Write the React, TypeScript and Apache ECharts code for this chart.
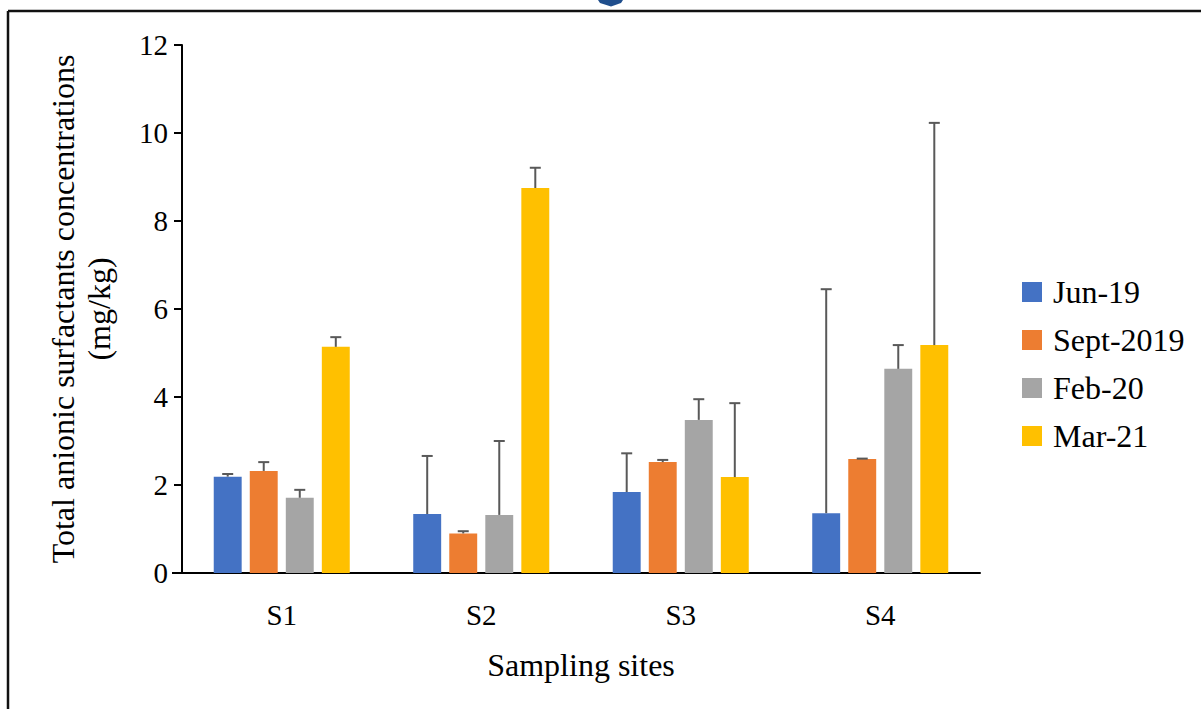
import React, { useEffect, useRef } from "react";
import * as echarts from "echarts";

const categories = ["S1", "S2", "S3", "S4"];
const seriesNames = ["Jun-19", "Sept-2019", "Feb-20", "Mar-21"];
const colors = ["#4472C4", "#ED7D31", "#A5A5A5", "#FFC000"];

const jun19 = [2.19, 1.34, 1.84, 1.36];
const sept2019 = [2.32, 0.9, 2.52, 2.59];
const feb20 = [1.71, 1.32, 3.48, 4.64];
const mar21 = [5.14, 8.75, 2.18, 5.18];

const jun19Err = [0.06, 1.32, 0.88, 5.09];
const sept2019Err = [0.2, 0.05, 0.05, 0.01];
const feb20Err = [0.18, 1.68, 0.47, 0.54];
const mar21Err = [0.22, 0.46, 1.68, 5.05];

const yTicks = [0, 2, 4, 6, 8, 10, 12];

const FONT = '"Liberation Serif", "Times New Roman", serif';

export default function App() {
  const ref = useRef<HTMLDivElement>(null);

  useEffect(() => {
    if (!ref.current) return;
    const chart = echarts.init(ref.current, null, { renderer: "svg" });
    const values = [jun19, sept2019, feb20, mar21];
    const errs = [jun19Err, sept2019Err, feb20Err, mar21Err];
    const barWidthFrac = 0.14;
    const barGapFrac = 0.29;

    const barSeries = values.map((v, i) => ({
      name: seriesNames[i],
      type: "bar",
      data: v,
      barWidth: "14%",
      barGap: "29%",
      itemStyle: { color: colors[i] },
      z: 2,
    }));

    const errSeries = values.map((v, i) => ({
      name: seriesNames[i] + "-err",
      type: "custom",
      z: 3,
      data: v.map((val, k) => [k, val, val + errs[i][k]]),
      renderItem: (params: any, api: any) => {
        const cat = api.value(0);
        const lo = api.coord([cat, api.value(1)]);
        const hi = api.coord([cat, api.value(2)]);
        const band = api.size([1, 0])[0];
        const w = band * barWidthFrac;
        const step = w * (1 + barGapFrac);
        const x = lo[0] + (i - 1.5) * step;
        const cap = 5.5;
        const style = { stroke: "#595959", lineWidth: 2 };
        return {
          type: "group",
          children: [
            { type: "line", shape: { x1: x, y1: lo[1], x2: x, y2: hi[1] }, style },
            { type: "line", shape: { x1: x - cap, y1: hi[1], x2: x + cap, y2: hi[1] }, style },
          ],
        };
      },
    }));

    chart.setOption({
      animation: false,
      backgroundColor: "#ffffff",
      textStyle: { fontFamily: FONT },
      grid: { left: 182, right: 221, top: 45, bottom: 136 },
      legend: {
        orient: "vertical",
        left: 1017,
        top: 271,
        itemWidth: 20,
        itemHeight: 20,
        itemGap: 16,
        icon: "rect",
        data: seriesNames,
        textStyle: { fontFamily: FONT, fontSize: 32, color: "#000", padding: [0, 0, 0, 6] },
      },
      xAxis: {
        type: "category",
        data: categories,
        name: "Sampling sites",
        nameLocation: "middle",
        nameGap: 76,
        nameTextStyle: { fontFamily: FONT, fontSize: 32, color: "#000" },
        axisLine: { lineStyle: { color: "#000", width: 2 } },
        axisTick: { show: false },
        axisLabel: { fontFamily: FONT, fontSize: 29, color: "#000", margin: 27 },
      },
      yAxis: {
        type: "value",
        min: yTicks[0],
        max: yTicks[yTicks.length - 1],
        interval: 2,
        name: "Total anionic surfactants concentrations\n(mg/kg)",
        nameLocation: "middle",
        nameRotate: 90,
        nameGap: 65,
        nameTextStyle: { fontFamily: FONT, fontSize: 32, color: "#000", lineHeight: 36 },
        axisLine: { show: true, lineStyle: { color: "#000", width: 2 } },
        axisTick: { show: true, length: 8, lineStyle: { color: "#000", width: 2 } },
        splitLine: { show: false },
        axisLabel: { fontFamily: FONT, fontSize: 29, color: "#000", margin: 14 },
      },
      graphic: [
        { type: "line", shape: { x1: 8, y1: 11, x2: 1201, y2: 11 }, style: { stroke: "#111", lineWidth: 2.5 } },
        { type: "line", shape: { x1: 8, y1: 11, x2: 8, y2: 709 }, style: { stroke: "#111", lineWidth: 2.5 } },
        { type: "line", shape: { x1: 172, y1: 573, x2: 183, y2: 573 }, style: { stroke: "#000", lineWidth: 2 } },
        {
          type: "polygon",
          shape: { points: [[598, 0], [623, 0], [621, 3], [611, 6.5], [600, 3]] },
          style: { fill: "#1F4E8C" },
        },
      ],
      series: [...barSeries, ...errSeries],
    });
    return () => chart.dispose();
  }, []);

  return (
    <div
      ref={ref}
      style={{ position: "absolute", left: 0, top: 0, width: 1201, height: 709 }}
    />
  );
}
